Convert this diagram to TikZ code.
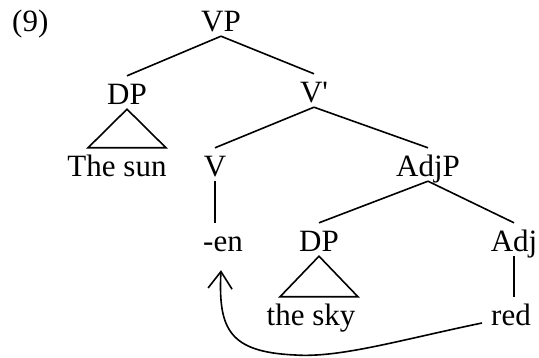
\documentclass[tikz,border=0pt]{standalone}
\usepackage{fontspec}
\setmainfont{Liberation Serif}
\usetikzlibrary{calc,arrows.meta}
\tikzset{
  cat/.style={anchor=base, inner xsep=1pt, inner ysep=4pt, text height=25pt,
    text depth=0pt, font=\fontsize{31}{37}\selectfont},
  branch/.style={line width=1.6pt},
}
\newcommand{\roof}[2]{
    \draw[branch] (#1.south) -- ($(#1.south |- #2.north)+(-39,0)$)
        -- ($(#1.south |- #2.north)+(39,0)$) -- cycle;
}
\newcommand{\branchTo}[2]{
    \draw[branch] (#1.south) -- (#2.north);
}
\begin{document}
\begin{tikzpicture}[x=1pt, y=-1pt]
    \useasboundingbox (0,0) rectangle (539,358);
    \node[cat, anchor=base west] (num) at (11,32) {(9)};
    \node[cat] (vp) at (221,32) {VP};
    \node[cat] (dpA) at (127,105) {DP};
    \node[cat] (vbar) at (314,103) {V\textquotesingle};
    \node[cat] (sun) at (117,177) {The sun};
    \node[cat] (v) at (215,177) {V};
    \node[cat] (adjp) at (428,177) {AdjP};
    \node[cat] (en) at (223,252) {-en};
    \node[cat] (dpB) at (319,252) {DP};
    \node[cat] (adj) at (514,252) {Adj};
    \node[cat] (sky) at (311,326) {the sky};
    \node[cat] (red) at (511,326) {red};
    \branchTo{vp}{dpA}
    \branchTo{vp}{vbar}
    \branchTo{vbar}{v}
    \branchTo{vbar}{adjp}
    \branchTo{adjp}{dpB}
    \branchTo{adjp}{adj}
    \roof{dpA}{sun}
    \roof{dpB}{sky}
    \draw[branch] (v.south) -- (v.south |- en.north);
    \draw[branch] (adj.south) -- (adj.south |- red.north);
    % movement of the adjective
    \draw[branch, -{Straight Barb[length=17pt, width=24pt]}]
        ($(red.base west)+(-8,-3)$) .. controls (400,340) and (340,358) .. (295,355)
        .. controls (230,352) and (218,330) .. ($(en.south)+(-2,14)$);
\end{tikzpicture}
\end{document}
